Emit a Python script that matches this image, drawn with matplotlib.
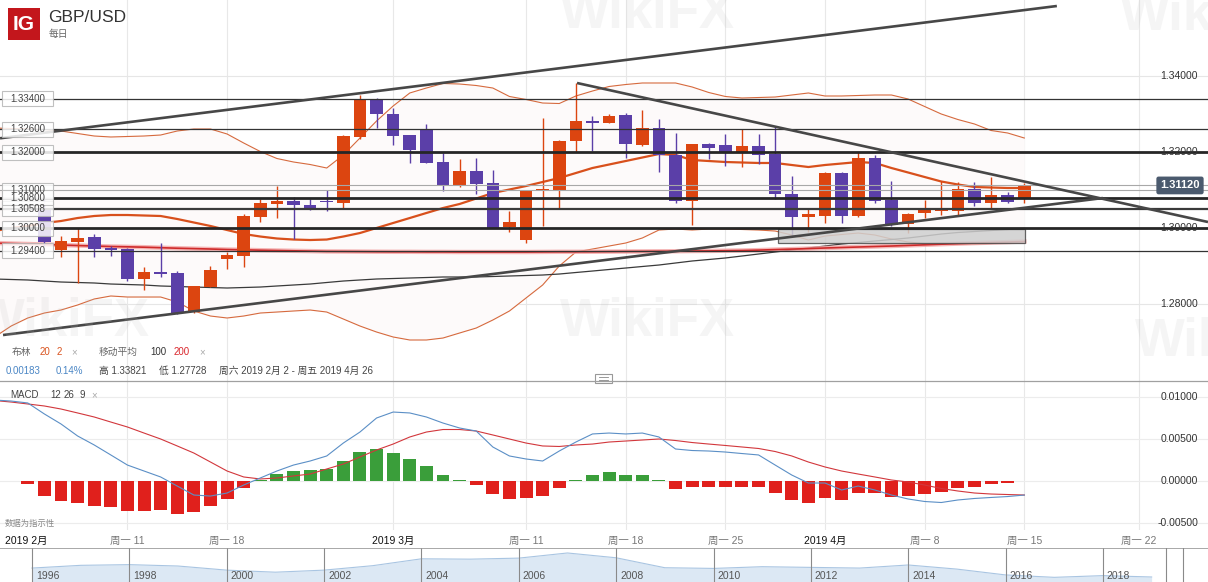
import numpy as np
import matplotlib.pyplot as plt
import matplotlib.transforms as mtransforms
from matplotlib.patches import Rectangle

plt.rcParams['font.family'] = ['Liberation Sans', 'Noto Sans CJK SC', 'DejaVu Sans']

W, H = 1208, 582

# daily candles (IG daily incl. sunday sessions), bar 0 = first visible candle
opens = [1.30526, 1.29421, 1.29639, 1.29755, 1.29466, 1.29447, 1.28666, 1.28842, 1.28808, 1.27797,
         1.28455, 1.29192, 1.29271, 1.30297, 1.30639, 1.30718, 1.30613, 1.30711, 1.30666, 1.32403,
         1.33387, 1.33000, 1.32447, 1.32597, 1.31745, 1.31132, 1.31508, 1.31176, 1.30018, 1.29684,
         1.30966, 1.30982, 1.32289, 1.32816, 1.32755, 1.32974, 1.32184, 1.32624, 1.31921, 1.30718,
         1.32211, 1.32184, 1.31992, 1.32158, 1.31947, 1.30895, 1.30297, 1.30324, 1.31455, 1.30324,
         1.31834, 1.30737, 1.30097, 1.30403, 1.30455, 1.30455, 1.31018, 1.30666, 1.30868, 1.30797]
highs = [1.30789, 1.29797, 1.29992, 1.29842, 1.29526, 1.29466, 1.28966, 1.29613, 1.28868, 1.28474,
         1.29000, 1.29376, 1.30361, 1.30755, 1.31113, 1.30808, 1.30771, 1.31000, 1.32447, 1.33500,
         1.33413, 1.33150, 1.32447, 1.32737, 1.31982, 1.31816, 1.31834, 1.31526, 1.30447, 1.31000,
         1.32887, 1.32316, 1.33824, 1.32947, 1.33000, 1.33018, 1.33105, 1.32861, 1.32492, 1.32211,
         1.32229, 1.32474, 1.32597, 1.32474, 1.32666, 1.31368, 1.30492, 1.31482, 1.31482, 1.31992,
         1.31921, 1.31237, 1.30387, 1.30737, 1.31237, 1.31203, 1.31203, 1.31334, 1.30955, 1.31176]
lows = [1.29526, 1.29245, 1.28545, 1.29229, 1.29271, 1.28613, 1.28368, 1.28718, 1.27737, 1.27771,
        1.28455, 1.28929, 1.28982, 1.30150, 1.30271, 1.29703, 1.30474, 1.30455, 1.30534, 1.32334,
        1.32639, 1.32184, 1.31718, 1.31703, 1.30982, 1.31087, 1.30895, 1.30008, 1.29903, 1.29597,
        1.30061, 1.30518, 1.32008, 1.32026, 1.32755, 1.31850, 1.32166, 1.31482, 1.30666, 1.30079,
        1.31808, 1.31632, 1.31597, 1.31684, 1.30755, 1.29816, 1.29903, 1.30124, 1.30139, 1.30297,
        1.30650, 1.30053, 1.29876, 1.30255, 1.30342, 1.30324, 1.30579, 1.30518, 1.30666, 1.30666]
closes = [1.29632, 1.29658, 1.29745, 1.29447, 1.29413, 1.28658, 1.28842, 1.28797, 1.27755, 1.28474,
          1.28895, 1.29289, 1.30316, 1.30658, 1.30718, 1.30597, 1.30508, 1.30676, 1.32421, 1.33387,
          1.32992, 1.32429, 1.32053, 1.31718, 1.31132, 1.31508, 1.31158, 1.30008, 1.30150, 1.30974,
          1.31018, 1.32289, 1.32816, 1.32771, 1.32947, 1.32203, 1.32624, 1.31921, 1.30718, 1.32203,
          1.32097, 1.32008, 1.32158, 1.31921, 1.30895, 1.30297, 1.30361, 1.31455, 1.30324, 1.31834,
          1.30718, 1.30079, 1.30361, 1.30492, 1.30492, 1.31018, 1.30666, 1.30868, 1.30692, 1.31120]

# indicators start 3 bars before the first candle so they reach the left edge
ind_start = -3
bb_mid = [1.29921, 1.30000, 1.30053, 1.30132, 1.30184, 1.30263, 1.30316, 1.30342, 1.30342, 1.30329,
          1.30316, 1.30237, 1.30145, 1.30053, 1.29947, 1.29842, 1.29776, 1.29724, 1.29697, 1.29684,
          1.29697, 1.29776, 1.29868, 1.30000, 1.30132, 1.30263, 1.30395, 1.30526, 1.30632, 1.30776,
          1.30921, 1.31013, 1.31105, 1.31211, 1.31316, 1.31447, 1.31579, 1.31671, 1.31763, 1.31855,
          1.31947, 1.31921, 1.31789, 1.31763, 1.31737, 1.31724, 1.31711, 1.31711, 1.31658, 1.31605,
          1.31658, 1.31697, 1.31737, 1.31711, 1.31579, 1.31461, 1.31342, 1.31224, 1.31145, 1.31079,
          1.31066, 1.31053, 1.31053]
bb_up = [1.32632, 1.32618, 1.32605, 1.32592, 1.32553, 1.32487, 1.32421, 1.32395, 1.32408, 1.32421,
         1.32447, 1.32553, 1.32605, 1.32605, 1.32474, 1.32237, 1.32013, 1.31829, 1.31737, 1.31671,
         1.31579, 1.31921, 1.32368, 1.32816, 1.33211, 1.33553, 1.33684, 1.33803, 1.33789, 1.33750,
         1.33684, 1.33461, 1.33382, 1.33289, 1.33276, 1.33474, 1.33605, 1.33724, 1.33776, 1.33816,
         1.33816, 1.33816, 1.33711, 1.33566, 1.33461, 1.33421, 1.33434, 1.33447, 1.33500, 1.33553,
         1.33474, 1.33474, 1.33487, 1.33500, 1.33500, 1.33395, 1.33197, 1.33000, 1.32855, 1.32737,
         1.32566, 1.32500, 1.32368]
bb_low = [1.27132, 1.27421, 1.27632, 1.27763, 1.27842, 1.27974, 1.28132, 1.28211, 1.28184, 1.28184,
          1.28184, 1.28053, 1.27816, 1.27684, 1.27632, 1.27684, 1.27763, 1.27789, 1.27816, 1.27842,
          1.27789, 1.27605, 1.27421, 1.27263, 1.27132, 1.27053, 1.27053, 1.27105, 1.27237, 1.27368,
          1.27579, 1.27816, 1.28158, 1.28500, 1.29000, 1.29368, 1.29447, 1.29526, 1.29605, 1.29737,
          1.29947, 1.29974, 1.29947, 1.29974, 1.29974, 1.29961, 1.29947, 1.29921, 1.29816, 1.29684,
          1.29789, 1.29829, 1.29868, 1.29816, 1.29711, 1.29632, 1.29592, 1.29579, 1.29579, 1.29579,
          1.29592, 1.29605, 1.29632]
ma100 = [1.28658, 1.28645, 1.28632, 1.28605, 1.28579, 1.28566, 1.28553, 1.28526, 1.28513, 1.28500,
         1.28474, 1.28461, 1.28447, 1.28434, 1.28421, 1.28434, 1.28447, 1.28474, 1.28500, 1.28526,
         1.28566, 1.28605, 1.28632, 1.28658, 1.28671, 1.28684, 1.28697, 1.28711, 1.28711, 1.28711,
         1.28724, 1.28737, 1.28750, 1.28763, 1.28789, 1.28829, 1.28868, 1.28908, 1.28947, 1.28987,
         1.29026, 1.29079, 1.29132, 1.29171, 1.29211, 1.29263, 1.29316, 1.29368, 1.29421, 1.29474,
         1.29526, 1.29579, 1.29618, 1.29658, 1.29697, 1.29737, 1.29789, 1.29842, 1.29882, 1.29908,
         1.29934, 1.29961, 1.29987]
ma200 = [1.29605, 1.29592, 1.29579, 1.29566, 1.29553, 1.29539, 1.29526, 1.29513, 1.29505, 1.29495,
         1.29482, 1.29468, 1.29458, 1.29447, 1.29434, 1.29426, 1.29416, 1.29408, 1.29400, 1.29392,
         1.29384, 1.29382, 1.29379, 1.29376, 1.29374, 1.29374, 1.29371, 1.29371, 1.29368, 1.29368,
         1.29368, 1.29368, 1.29368, 1.29371, 1.29374, 1.29374, 1.29376, 1.29379, 1.29382, 1.29384,
         1.29387, 1.29389, 1.29395, 1.29397, 1.29403, 1.29408, 1.29418, 1.29432, 1.29445, 1.29458,
         1.29474, 1.29487, 1.29500, 1.29513, 1.29526, 1.29542, 1.29558, 1.29574, 1.29589, 1.29603,
         1.29616, 1.29629, 1.29645]

macd = [0.00964, 0.00952, 0.00929, 0.00798, 0.00679, 0.00536, 0.00429, 0.00310, 0.00190, 0.00119,
        0.00048, -0.00060, -0.00167, -0.00179, -0.00143, -0.00048, 0.00036, 0.00119, 0.00190, 0.00238,
        0.00298, 0.00452, 0.00583, 0.00750, 0.00821, 0.00810, 0.00762, 0.00690, 0.00631, 0.00595,
        0.00405, 0.00298, 0.00262, 0.00238, 0.00357, 0.00464, 0.00560, 0.00571, 0.00560, 0.00571,
        0.00524, 0.00381, 0.00363, 0.00357, 0.00345, 0.00327, 0.00310, 0.00190, 0.00071, -0.00024,
        -0.00024, -0.00107, -0.00060, -0.00107, -0.00167, -0.00214, -0.00244, -0.00256, -0.00226, -0.00208,
        -0.00196, -0.00185, -0.00167]
signal = [0.00958, 0.00940, 0.00917, 0.00893, 0.00857, 0.00810, 0.00762, 0.00702, 0.00643, 0.00571,
          0.00500, 0.00417, 0.00333, 0.00226, 0.00119, 0.00048, 0.00024, 0.00036, 0.00060, 0.00083,
          0.00143, 0.00202, 0.00286, 0.00369, 0.00440, 0.00524, 0.00583, 0.00613, 0.00613, 0.00595,
          0.00548, 0.00500, 0.00452, 0.00417, 0.00411, 0.00429, 0.00440, 0.00464, 0.00476, 0.00488,
          0.00500, 0.00482, 0.00458, 0.00440, 0.00423, 0.00405, 0.00387, 0.00351, 0.00298, 0.00226,
          0.00167, 0.00119, 0.00083, 0.00048, 0.00012, -0.00012, -0.00048, -0.00089, -0.00119, -0.00143,
          -0.00155, -0.00161, -0.00167]
hist = [0.0, 0.00003, -0.00040, -0.00175, -0.00238, -0.00266, -0.00298, -0.00310, -0.00357, -0.00357,
        -0.00345, -0.00393, -0.00365, -0.00298, -0.00214, -0.00087, 0.00010, 0.00080, 0.00119, 0.00131,
        0.00139, 0.00238, 0.00349, 0.00381, 0.00337, 0.00262, 0.00179, 0.00068, 0.00015, -0.00044,
        -0.00159, -0.00218, -0.00202, -0.00183, -0.00080, 0.00010, 0.00071, 0.00103, 0.00068, 0.00068,
        0.00010, -0.00099, -0.00075, -0.00068, -0.00075, -0.00068, -0.00075, -0.00147, -0.00226, -0.00258,
        -0.00202, -0.00226, -0.00139, -0.00147, -0.00187, -0.00179, -0.00159, -0.00135, -0.00087, -0.00068,
        -0.00039, -0.00027, 0.00005]

# drawn levels and trendlines (bar index, price)
levels_thick = [1.32000, 1.30800, 1.30000]
levels_mid = [1.30508]
levels_thin = [1.33400, 1.32600, 1.29400]
levels_light = [1.31000, 1.31120]
left_labels = [1.33400, 1.32600, 1.32000, 1.31000, 1.30508, 1.30800, 1.30000, 1.29400]
trend_top = ([-2.67, 60.96], [1.32361, 1.35842])
trend_low = ([-2.49, 63.73], [1.27184, 1.30789])
trend_down = ([32.07, 70.06], [1.33816, 1.30158])
zone_box = (44.17, 59.04, 1.29605, 1.29974)
last_price = 1.31120

price_ticks = [1.34, 1.32, 1.30, 1.28]
macd_ticks = [0.01, 0.005, 0.0, -0.005]

grid_idx = [5, 11, 21, 29, 35, 41, 47, 53, 59, 65.9]
grid_lab = ['周一 11', '周一 18', '2019 3月', '周一 11', '周一 18', '周一 25',
            '2019 4月', '周一 8', '周一 15', '周一 22']

nav_years = list(range(1996, 2020))
nav_vals = [1.56, 1.64, 1.66, 1.62, 1.50, 1.44, 1.50, 1.63, 1.83, 1.82, 1.85, 2.00,
            1.86, 1.57, 1.55, 1.60, 1.58, 1.56, 1.65, 1.53, 1.36, 1.29, 1.34, 1.30]

UP, DOWN = '#dc4510', '#5b3fa8'
XL = (-2.672, 70.06)

fig = plt.figure(figsize=(W / 100, H / 100), dpi=100)
fig.patch.set_facecolor('white')


def rect(x0, y0, x1, y1):
    return [x0 / W, 1 - y1 / H, (x1 - x0) / W, (y1 - y0) / H]


def T(x, y, s, **kw):
    kw.setdefault('fontsize', 7)
    kw.setdefault('va', 'center')
    fig.text(x / W, 1 - y / H, s, **kw)


ax = fig.add_axes(rect(0, 0, W, 381))
axm = fig.add_axes(rect(0, 382, W, 530))
axn = fig.add_axes(rect(0, 548, W, 582))
for a in (ax, axm, axn):
    a.set_axis_off()

# ---- price panel
ax.set_xlim(*XL)
ax.set_ylim(1.25974, 1.36)
for g in grid_idx:
    ax.axvline(g, color='#e8e8e8', lw=0.8, zorder=0)
    axm.axvline(g, color='#e8e8e8', lw=0.8, zorder=0)
for p in price_ticks:
    ax.axhline(p, color='#e6e6e6', lw=0.8, zorder=0)

li = np.arange(ind_start, ind_start + len(bb_mid))
ax.fill_between(li, bb_low, bb_up, color='#fdfafa', zorder=0.5, lw=0)
ax.plot(li, bb_up, color='#d66a3e', lw=0.8, zorder=2)
ax.plot(li, bb_low, color='#d66a3e', lw=0.8, zorder=2)
ax.plot(li, bb_mid, color='#d8501c', lw=1.6, zorder=2)
ax.plot(li, ma100, color='#3a3a3a', lw=0.9, zorder=2)
ax.plot(li, ma200, color='#f3a5a5', lw=3.2, zorder=2, alpha=0.8)
ax.plot(li, ma200, color='#cf2a2a', lw=1.2, zorder=2.1)

ci = np.arange(len(opens))
o, hi, lo, c = map(np.array, (opens, highs, lows, closes))
cols = [UP if cc >= oo else DOWN for oo, cc in zip(o, c)]
ax.vlines(ci, lo, hi, colors=cols, lw=1.0, zorder=3)
body = np.maximum(np.abs(c - o), 0.0004)
ax.bar(ci, body, bottom=np.minimum(o, c), width=0.76, color=cols, zorder=3.1, lw=0)

ax.add_patch(Rectangle((zone_box[0], zone_box[2]), zone_box[1] - zone_box[0], zone_box[3] - zone_box[2],
                       fc='#cfcfcf', ec='#4a4a4a', lw=0.9, alpha=0.85, zorder=4))
for p in levels_light:
    ax.axhline(p, color='#a8a8a8', lw=0.8, zorder=4)
for p in levels_thin:
    ax.axhline(p, color='#333333', lw=0.9, zorder=5)
for p in levels_mid:
    ax.axhline(p, color='#3a3a3a', lw=1.6, zorder=5)
for p in levels_thick:
    ax.axhline(p, color='#262626', lw=2.0, zorder=5)
for xs, ys in (trend_top, trend_low, trend_down):
    ax.plot(xs, ys, color='#474747', lw=1.9, zorder=5, solid_capstyle='butt')

tr_l = mtransforms.blended_transform_factory(ax.transAxes, ax.transData)
hh = 7.5 / 3800
for p in left_labels:
    ax.add_patch(Rectangle((2 / W, p - hh), 51 / W, 2 * hh, transform=tr_l,
                           fc='white', ec='#b5b5b5', lw=0.8, alpha=0.85, zorder=6))
    ax.text(27.5 / W, p, f'{p:.5f}', transform=tr_l, ha='center', va='center',
            fontsize=7, color='#444', zorder=7)
for p in price_ticks:
    ax.text(1198 / W, p, f'{p:.5f}', transform=tr_l, ha='right', va='center',
            fontsize=7.5, color='#333', zorder=7)
ax.text(1180 / W, last_price, f'{last_price:.5f}', transform=tr_l, ha='center', va='center',
        fontsize=8, color='white', fontweight='bold', zorder=8,
        bbox=dict(boxstyle='round,pad=0.35,rounding_size=0.2', fc='#4b5a6e', ec='none'))

# ---- MACD panel
axm.set_xlim(*XL)
axm.set_ylim(-0.005833, 0.011786)
for m in macd_ticks:
    axm.axhline(m, color='#ececec', lw=0.8, zorder=0)
hc = ['#3a9e3a' if v >= 0 else '#e0201c' for v in hist]
axm.bar(li, hist, width=0.78, color=hc, zorder=2, lw=0)
axm.plot(li, signal, color='#d2373c', lw=0.8, zorder=3)
axm.plot(li, macd, color='#5b8fc6', lw=0.8, zorder=3)
tr_m = mtransforms.blended_transform_factory(axm.transAxes, axm.transData)
for m in macd_ticks:
    axm.text(1198 / W, m, f'{m:.5f}', transform=tr_m, ha='right', va='center',
             fontsize=7.5, color='#333')

tr_x = mtransforms.blended_transform_factory(axm.transData, axm.transAxes)
for g, lab in zip(grid_idx, grid_lab):
    month = '月' in lab
    axm.text(g, -0.075, lab, transform=tr_x, ha='center', va='center', fontsize=7.5,
             color='#111' if month else '#777')
axm.text(-2.4, -0.075, '2019 2月', transform=tr_x, ha='left', va='center', fontsize=7.5, color='#111')

# ---- navigator
axn.set_xlim(1995.343, 2020.158)
axn.set_ylim(1.154, 2.145)
axn.fill_between(nav_years, 1.154, nav_vals, color='#dce8f4', lw=0)
axn.plot(nav_years, nav_vals, color='#a9c5e2', lw=0.8)
tr_n = mtransforms.blended_transform_factory(axn.transData, axn.transAxes)
for yr in range(1996, 2019, 2):
    axn.axvline(yr, color='#8a8a8a', lw=0.8)
    axn.text(yr + 0.08, 0.17, str(yr), transform=tr_n, fontsize=7.5, color='#555', va='center')
axn.axhline(2.145, color='#9a9a9a', lw=1.2)
axn.axvline(2019.3, color='#8a8a8a', lw=0.8)
axn.axvline(2019.65, color='#8a8a8a', lw=0.8)

# ---- header, legends, separators
fig.add_artist(Rectangle((8 / W, 1 - 40 / H), 32 / W, 32 / H, transform=fig.transFigure,
                         fc='#c3161c', ec='none'))
T(24, 25, 'IG', color='white', fontsize=15, fontweight='bold', ha='center')
T(48, 17, 'GBP/USD', fontsize=12.5, color='#333')
T(49, 34, '每日', fontsize=7, color='#666')

T(12, 352, '布林', color='#666')
T(40, 352, '20', color='#d9531e')
T(57, 352, '2', color='#d9531e')
T(71, 352, '×', color='#aaa')
T(99, 352, '移动平均', color='#666')
T(150, 352, '100', color='#333')
T(174, 352, '200', color='#d9262c')
T(199, 352, '×', color='#aaa')
T(6, 371, '0.00183', color='#4a86c5')
T(56, 371, '0.14%', color='#4a86c5')
T(99, 371, '高 1.33821', color='#444')
T(159, 371, '低 1.27728', color='#444')
T(219, 371, '周六 2019 2月 2 - 周五 2019 4月 26', color='#444')

fig.add_artist(plt.Line2D([0, 1], [1 - 381 / H] * 2, color='#a0a0a0', lw=0.9, transform=fig.transFigure))
fig.add_artist(Rectangle((595 / W, 1 - 383 / H), 17 / W, 9 / H, transform=fig.transFigure,
                         fc='white', ec='#999', lw=0.8))
for yy in (377, 380):
    fig.add_artist(plt.Line2D([599 / W, 608 / W], [1 - yy / H] * 2, color='#888', lw=0.6,
                              transform=fig.transFigure))

T(10, 395, 'MACD', color='#444')
T(50, 395, '12', color='#444')
T(64, 395, '26', color='#444')
T(80, 395, '9', color='#444')
T(91, 395, '×', color='#aaa')
T(5, 524, '数据为指示性', fontsize=6, color='#888')

# faint watermarks
for x, y, ha in ((560, 322, 'left'), (150, 322, 'right'), (1135, 342, 'left'),
                 (560, 14, 'left'), (1120, 16, 'left')):
    T(x, y, 'WikiFX', fontsize=38, fontweight='bold', color='#bdbdbd', alpha=0.15, ha=ha)

fig.savefig('out.png', dpi=100)
